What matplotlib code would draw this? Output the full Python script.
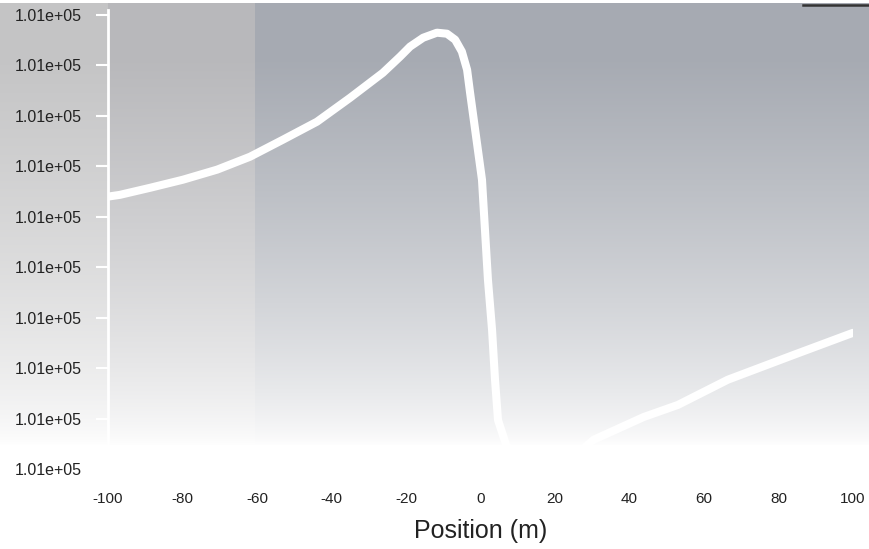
import numpy as np
import matplotlib
matplotlib.use('Agg')
import matplotlib.pyplot as plt
from matplotlib.ticker import FuncFormatter
from matplotlib.lines import Line2D

plt.rcParams['font.family'] = ['Liberation Sans', 'DejaVu Sans']
plt.rcParams['axes.unicode_minus'] = False

# Data (pressure in Pa along position in m)
position = [-100, -96.8, -88.7, -79.9, -70.7, -61.9, -53.0, -43.9, -35.0, -26.2,
            -21.6, -18.9, -15.4, -11.7, -9.0, -6.8, -5.0, -3.6, -2.8,
            0.4, 1.2, 2.0, 3.1, 3.9, 4.7, 7, 12, 20, 26,
            30.4, 43.8, 53, 66.4, 84, 100]
pressure = [101310.80, 101310.87, 101311.15, 101311.47, 101311.87, 101312.38,
            101313.06, 101313.77, 101314.72, 101315.71, 101316.35,
            101316.75, 101317.10, 101317.30, 101317.26, 101317.02, 101316.55,
            101315.83, 101314.92, 101311.47, 101309.48,
            101307.50, 101305.52, 101303.53, 101301.94, 101300.90, 101300.40,
            101300.30, 101300.60, 101301.16, 101302.06, 101302.54, 101303.54,
            101304.52, 101305.40]
y_ticks = [101300, 101302, 101304, 101306, 101308, 101310, 101312, 101314, 101316, 101318]
x_ticks = [-100, -80, -60, -40, -20, 0, 20, 40, 60, 80, 100]

W, H = 869, 549
fig = plt.figure(figsize=(W / 100, H / 100), dpi=100)

# scanned grey background, darker at top, fading to white
bg = fig.add_axes([0, 0, 1, 1], zorder=-10)
rows = np.arange(H)[:, None]
cols = np.arange(W)[None, :]
fade = np.clip((445 - rows) / 390.0, 0, 1) ** 0.7
fade = np.where(rows < 3, 0, fade)
base_r = np.where(cols < 108, 196, np.where(cols < 255, 184, 166))
base_g = np.where(cols < 108, 196, np.where(cols < 255, 184, 170))
base_b = np.where(cols < 108, 197, np.where(cols < 255, 187, 178))
img = np.stack([255 - fade * (255 - base_r),
                255 - fade * (255 - base_g),
                255 - fade * (255 - base_b)], axis=-1) / 255.0
bg.imshow(img, extent=[0, W, H, 0], aspect='auto', interpolation='bilinear')
bg.set_xlim(0, W)
bg.set_ylim(H, 0)
bg.axis('off')

# main plot
ax = fig.add_axes([108 / W, 1 - 471.5 / H, (853 - 108) / W, (471.5 - 10) / H])
ax.patch.set_visible(False)
ax.plot(position, pressure, color='white', lw=5.8, solid_capstyle='round',
        solid_joinstyle='round')
ax.set_xlim(-100, 100)
ax.set_ylim(101299.9, 101318.2)
ax.set_xticks(x_ticks)
ax.set_yticks(y_ticks)
ax.yaxis.set_major_formatter(FuncFormatter(lambda v, p: f'{v:.2e}'))
for s in ['top', 'right', 'bottom']:
    ax.spines[s].set_visible(False)
ax.spines['left'].set_color('white')
ax.spines['left'].set_linewidth(2)
ax.tick_params(axis='y', colors='white', labelcolor='#222222', length=9, width=1.5,
               pad=10, labelsize=11.5)
ax.tick_params(axis='x', length=0, pad=15, labelsize=11, labelcolor='#222222')
ax.set_xlabel('Position (m)', fontsize=18, color='#222222', labelpad=9)

# dark scan edge at the top right
fig.add_artist(Line2D([803 / W, 1], [1 - 4.5 / H, 1 - 4.5 / H], color='#333333', lw=1.8))

fig.savefig('out.png', dpi=100)
